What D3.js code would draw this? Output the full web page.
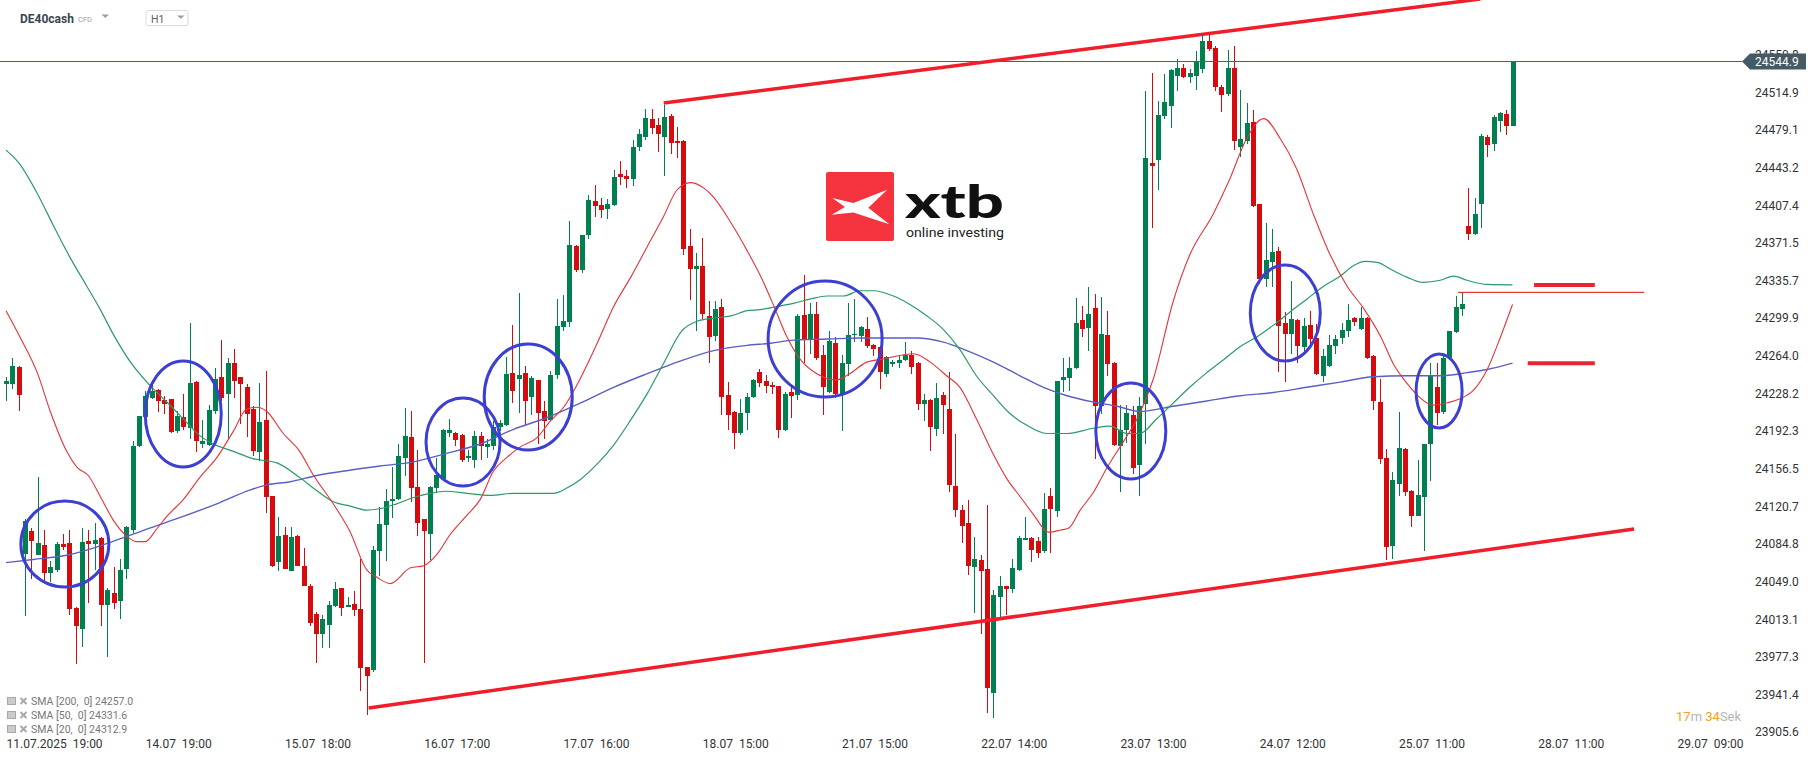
<!DOCTYPE html>
<html>
<head>
<meta charset="utf-8">
<style>
  body { margin: 0; background: #fff; }
  svg { display: block; font-family: Roboto, "Noto Sans", sans-serif; }
  .pre { white-space: pre; }
</style>
</head>
<body>
<svg width="1815" height="761"></svg>
<script src="https://d3js.org/d3.v7.min.js"></script>
<script>

// DE40cash H1 candles, 11.07.2025 19:00 .. 28.07 07:00 (one entry per candle)
var opens = [
  24236.7,24237.4,24252.9,24075.6,24097.5,24074.5,24083.7,24057.3,24059.7,24084.8,
  24085.5,24023.8,24004.0,24087.9,24084.4,24090.4,24026.9,24038.5,24030.8,24060.8,
  24098.5,24177.8,24206.0,24223.6,24231.4,24221.9,24222.6,24192.6,24205.7,24195.4,
  24239.5,24180.3,24178.9,24211.3,24243.7,24227.2,24257.1,24243.7,24234.2,24213.8,
  24172.5,24202.5,24130.2,24067.8,24093.2,24059.0,24092.5,24063.3,24044.6,24018.5,
  23998.7,24007.6,24025.5,24042.8,24024.5,24027.3,24022.7,23967.4,23964.6,24078.4,
  24102.7,24125.3,24127.6,24167.0,24186.2,24139.5,24108.5,24094.3,24138.3,24146.8,
  24190.8,24190.0,24188.9,24166.3,24165.1,24187.3,24177.4,24178.5,24195.8,24197.7,
  24247.4,24241.7,24247.4,24225.2,24240.5,24211.1,24202.6,24245.5,24291.4,24296.4,
  24368.8,24345.8,24378.7,24411.3,24407.4,24403.6,24407.4,24437.7,24435.8,24432.3,
  24462.6,24472.1,24489.7,24483.6,24472.1,24492.4,24468.3,24468.7,24368.8,24347.0,
  24350.0,24301.8,24283.0,24310.6,24227.1,24210.3,24190.0,24209.2,24225.2,24248.2,
  24239.8,24236.3,24235.0,24192.9,24229.1,24226.5,24303.0,24280.1,24304.3,24264.8,
  24229.9,24275.8,24227.8,24256.3,24283.5,24283.1,24289.4,24274.6,24272.4,24246.9,
  24256.3,24257.5,24260.5,24265.2,24257.5,24218.0,24222.3,24194.6,24226.5,24213.8,
  24139.8,24117.2,24104.4,24063.2,24069.6,24061.1,23942.8,24034.3,24044.9,24041.5,
  24059.8,24088.7,24090.8,24087.4,24077.6,24130.8,24116.4,24240.5,24242.7,24252.0,
  24298.0,24290.3,24309.4,24216.3,24283.9,24257.5,24178.0,24192.9,24207.8,24159.7,
  24217.9,24447.8,24450.2,24492.8,24502.3,24530.8,24538.7,24529.2,24530.8,24537.6,
  24563.5,24557.4,24520.0,24513.2,24538.0,24463.2,24468.9,24486.6,24408.7,24337.3,
  24353.3,24363.5,24295.4,24284.6,24298.2,24272.3,24293.0,24281.1,24244.4,24253.9,
  24273.3,24281.1,24287.9,24300.5,24289.3,24300.5,24264.1,24219.6,24166.2,24082.8,
  24142.3,24175.4,24135.5,24111.7,24129.8,24179.8,24234.2,24210.4,24262.1,24286.9,
  24309.0,24388.0,24380.5,24408.7,24472.3,24465.5,24487.7,24494.1,24483.2
];
var highs = [
  24243.7,24262.4,24254.0,24109.0,24099.9,24148.6,24098.5,24068.5,24086.2,24094.3,
  24098.5,24024.5,24100.3,24098.5,24104.8,24091.0,24042.8,24062.6,24070.3,24102.1,
  24183.1,24207.0,24230.7,24240.6,24232.0,24226.1,24223.0,24211.3,24227.2,24295.2,
  24240.2,24202.5,24217.3,24252.5,24279.0,24262.4,24270.5,24244.0,24236.7,24216.6,
  24238.4,24249.4,24130.5,24110.8,24101.0,24101.0,24093.0,24080.9,24046.3,24019.9,
  24017.4,24030.8,24048.5,24043.0,24034.3,24039.6,24070.3,23968.0,24082.6,24119.7,
  24137.3,24158.2,24180.4,24214.1,24211.1,24174.7,24108.5,24140.2,24167.0,24194.0,
  24204.2,24191.0,24189.5,24174.7,24192.7,24191.9,24185.0,24201.5,24202.6,24262.7,
  24293.4,24324.0,24253.9,24244.4,24241.0,24220.6,24249.3,24318.2,24322.1,24392.9,
  24370.0,24379.5,24417.0,24426.6,24414.7,24413.2,24440.7,24449.2,24440.7,24469.5,
  24480.2,24498.9,24498.9,24490.5,24502.8,24494.3,24482.1,24469.5,24385.2,24362.3,
  24376.4,24316.3,24316.3,24318.2,24238.6,24211.0,24222.5,24228.3,24241.7,24251.3,
  24245.5,24239.3,24235.5,24229.1,24234.2,24304.3,24341.3,24314.1,24315.0,24274.6,
  24287.3,24281.8,24264.8,24314.1,24318.0,24292.0,24300.9,24275.0,24273.0,24263.9,
  24260.5,24264.8,24277.5,24269.0,24258.0,24227.8,24222.5,24238.4,24229.9,24249.0,
  24189.5,24122.3,24127.0,24091.7,24074.7,24121.5,24040.6,24054.7,24045.0,24070.4,
  24092.5,24110.8,24091.0,24091.7,24132.9,24138.5,24240.0,24261.8,24262.6,24319.2,
  24311.6,24329.8,24322.6,24320.5,24306.5,24258.0,24217.2,24217.2,24215.9,24224.8,
  24515.9,24533.6,24506.4,24532.9,24537.0,24547.2,24542.1,24537.0,24554.0,24569.3,
  24571.0,24559.1,24521.7,24555.7,24559.1,24517.2,24504.7,24497.9,24409.0,24390.7,
  24384.9,24367.9,24305.6,24335.2,24299.0,24300.5,24306.3,24294.8,24270.6,24283.5,
  24283.5,24295.4,24313.1,24301.0,24310.7,24301.0,24264.8,24241.7,24175.7,24153.2,
  24210.4,24176.0,24136.0,24164.4,24180.0,24257.3,24257.3,24264.1,24288.0,24321.0,
  24324.4,24423.7,24414.5,24475.1,24474.7,24493.4,24496.2,24497.9,24544.9
];
var lows = [
  24220.8,24232.5,24211.3,24015.7,24051.6,24073.8,24049.9,24048.5,24058.0,24079.1,
  24017.4,23970.5,23986.4,24028.7,24059.7,24006.2,23976.9,24022.7,24012.9,24050.9,
  24095.0,24176.8,24206.0,24222.6,24210.3,24208.8,24190.0,24190.2,24193.7,24184.9,
  24172.5,24176.1,24178.5,24208.5,24220.8,24184.9,24223.6,24199.0,24186.6,24169.0,
  24163.7,24114.4,24062.6,24059.0,24060.5,24058.7,24063.3,24044.6,24006.9,23971.6,
  23985.7,23985.7,24024.5,24015.7,24024.3,24015.7,23944.5,23921.8,23962.8,24054.4,
  24068.5,24109.6,24126.9,24149.1,24124.9,24092.4,23971.8,24069.4,24133.4,24145.2,
  24186.2,24178.5,24163.2,24162.4,24157.5,24164.4,24167.0,24174.7,24192.7,24197.0,
  24219.5,24209.2,24197.7,24207.2,24179.7,24185.1,24201.5,24241.7,24287.6,24291.4,
  24344.3,24343.1,24374.9,24395.9,24395.6,24394.8,24406.3,24426.6,24423.5,24426.2,
  24459.1,24469.5,24475.2,24458.0,24435.0,24456.1,24452.2,24360.4,24317.5,24287.6,
  24299.1,24257.0,24278.1,24207.2,24193.8,24175.5,24189.0,24193.8,24224.0,24234.0,
  24228.3,24227.8,24185.3,24192.5,24205.2,24222.3,24257.5,24266.0,24259.7,24207.8,
  24229.0,24223.5,24192.5,24244.8,24276.7,24276.7,24271.6,24263.9,24232.0,24243.5,
  24253.3,24252.0,24258.8,24246.9,24212.0,24202.3,24173.4,24187.4,24189.5,24134.2,
  24110.8,24085.3,24055.5,24019.4,23999.4,23923.7,23919.4,24015.1,24017.3,24038.5,
  24059.0,24088.5,24067.4,24071.7,24075.9,24075.9,24110.0,24229.1,24230.8,24251.0,
  24281.8,24268.2,24166.1,24208.6,24244.8,24178.0,24134.2,24181.0,24151.2,24130.0,
  24180.4,24385.6,24422.3,24490.0,24480.8,24516.6,24529.0,24524.4,24517.2,24533.6,
  24554.7,24515.9,24496.1,24512.0,24460.4,24453.6,24465.5,24406.0,24332.9,24329.5,
  24329.5,24248.5,24239.3,24265.5,24257.3,24268.9,24275.0,24246.0,24239.3,24252.9,
  24265.5,24275.7,24281.8,24292.0,24288.6,24260.7,24212.1,24161.0,24069.2,24070.9,
  24130.4,24130.4,24100.8,24111.0,24077.7,24145.0,24198.5,24208.7,24261.5,24286.0,
  24302.2,24374.4,24378.8,24385.6,24453.6,24458.7,24477.4,24474.0,24483.0
];
var closes = [
  24240.2,24254.3,24226.5,24106.6,24087.9,24085.5,24056.9,24062.6,24084.4,24081.9,
  24022.7,24006.9,24086.9,24084.4,24089.0,24026.2,24041.0,24028.7,24060.4,24101.0,
  24177.8,24206.7,24226.1,24230.7,24220.8,24218.4,24191.9,24206.7,24196.1,24237.7,
  24182.4,24182.4,24212.4,24242.0,24223.6,24256.8,24240.2,24236.7,24208.5,24173.2,
  24200.7,24129.2,24063.3,24092.2,24060.8,24091.5,24064.0,24044.9,24009.7,23998.7,
  24013.2,24026.2,24041.4,24023.4,24026.9,24021.7,23967.0,23959.3,24079.1,24103.8,
  24125.6,24127.6,24168.2,24187.3,24138.3,24104.6,24097.0,24139.1,24150.6,24193.8,
  24193.1,24183.5,24165.1,24169.0,24187.3,24178.5,24180.4,24195.8,24200.3,24246.3,
  24230.2,24245.5,24220.6,24242.5,24209.2,24201.5,24245.5,24292.2,24296.8,24369.9,
  24345.8,24378.7,24412.0,24407.1,24402.5,24408.6,24434.2,24434.2,24432.3,24462.9,
  24475.2,24490.5,24480.9,24475.2,24491.3,24466.4,24466.4,24366.1,24347.0,24350.0,
  24304.1,24281.9,24308.7,24225.2,24207.2,24190.0,24209.9,24225.2,24240.9,24237.9,
  24234.8,24234.2,24193.8,24227.8,24225.7,24302.2,24279.7,24303.5,24261.8,24234.2,
  24278.0,24227.8,24257.5,24284.3,24285.2,24291.6,24273.7,24270.3,24248.2,24262.6,
  24258.4,24260.5,24264.8,24253.3,24218.4,24222.3,24195.9,24223.5,24217.2,24140.6,
  24117.2,24102.3,24064.0,24070.4,24058.9,23947.1,24036.4,24044.9,24041.9,24061.9,
  24090.8,24090.8,24078.9,24075.9,24118.0,24118.5,24239.7,24243.5,24252.0,24295.0,
  24289.4,24303.5,24215.9,24285.2,24256.3,24178.9,24193.8,24209.5,24157.6,24215.9,
  24452.6,24445.1,24493.4,24505.7,24536.3,24538.7,24529.2,24533.6,24544.5,24564.2,
  24556.7,24520.0,24512.1,24538.7,24468.3,24470.6,24485.9,24407.0,24337.3,24355.0,
  24362.8,24292.7,24284.6,24298.8,24273.3,24292.0,24280.1,24247.1,24264.1,24274.3,
  24280.1,24288.6,24298.2,24296.5,24300.5,24262.1,24220.6,24165.5,24082.1,24145.7,
  24176.4,24133.8,24111.7,24131.5,24179.8,24245.1,24209.7,24262.1,24287.9,24310.7,
  24313.1,24379.8,24399.2,24473.4,24464.9,24491.7,24495.1,24482.5,24544.9
];

// moving averages: [candle index, value]
var sma200 = [[0,24067],[4.3,24070],[9.6,24074],[14.9,24083],[19.1,24092],[22.8,24100],[28,24111],
  [33.3,24123],[38.5,24136],[41.2,24141],[44.9,24144],[49.1,24150],[54.3,24155],[59.1,24159],
  [64.4,24163],[69.6,24171],[74.9,24180],[80.2,24194],[85.4,24205],[90.7,24219],[96,24234],
  [101.3,24247],[106.5,24259],[111.8,24269],[117.1,24274],[120.8,24276],[124.4,24279],[129.7,24280],
  [134.9,24281],[140.2,24281],[143.9,24281],[148.1,24277],[151.8,24269],[156,24258],[160.2,24245],
  [163.9,24234],[167.6,24226],[171.8,24220],[175.5,24216],[179.1,24211],[184.4,24216],[189.7,24221],
  [195,24226],[200.2,24229],[205.5,24234],[210.8,24239],[216,24244],[221.3,24245],[226.6,24245],
  [230.8,24248],[234,24251],[238,24257]];
var sma50 = [[0,24460],[2,24448],[5,24418],[7.5,24388],[10,24359],[12.7,24331],[14.9,24308],
  [17,24284],[19.9,24256],[22.7,24236],[25.4,24220],[28,24204],[30.6,24188],[32.8,24180],
  [35.9,24173],[39,24166],[42.8,24162],[46.4,24148],[49,24136],[51.7,24125],[54.3,24121],
  [57,24117],[59.6,24119],[61.7,24123],[64.4,24129],[67,24133],[69.6,24135],[72.8,24133],
  [76.5,24131],[80.2,24133],[83.9,24133],[86.5,24133],[88.6,24138],[90.7,24146],[93.4,24161],
  [96,24179],[98.7,24203],[101.3,24228],[103.9,24257],[106.8,24288],[109.2,24297],[111.8,24300],
  [114.5,24302],[117.1,24307],[119.1,24308],[121.8,24311],[124.4,24314],[127,24318],[129.7,24321],
  [132.3,24321],[134.9,24326],[137,24326],[140.2,24321],[142.8,24313],[145.5,24302],[148.1,24289],
  [150.7,24270],[153.3,24245],[156,24226],[158.6,24209],[161.2,24198],[164.4,24190],[167.6,24190],
  [171.8,24195],[174.4,24197],[177.1,24190],[179.1,24190],[181.8,24204],[184.4,24219],[187,24234],
  [189.7,24248],[192.3,24260],[195,24273],[197.6,24282],[200.2,24293],[202.9,24306],[205.5,24318],
  [208.1,24330],[210.8,24340],[212.9,24350],[214.7,24354],[216.6,24353],[219.2,24345],[221.3,24339],
  [223.7,24334],[226.6,24336],[228.7,24340],[230.8,24336],[234,24332],[238,24331.6]];
var sma20 = [[0,24307],[2.2,24282],[5,24247],[7,24211],[9.6,24173],[11.2,24158],[13,24150],
  [14.9,24130],[17,24107],[19.1,24092],[20.6,24087],[22,24087],[23.8,24099],[25.4,24111],
  [28,24127],[30.6,24148],[33.3,24167],[35.9,24192],[38,24213],[39.6,24215],[41.2,24211],
  [43.8,24190],[46.4,24173],[48.5,24151],[51.7,24123],[54.3,24097],[57,24060],[58.6,24053],
  [60.7,24047],[63.9,24062],[66,24064],[68.1,24075],[70.2,24094],[72.8,24112],[74.9,24127],
  [77,24154],[79.1,24167],[81.2,24177],[83.9,24186],[86,24202],[88.1,24215],[90.7,24242],
  [93.4,24276],[96,24311],[98.7,24339],[101.3,24368],[103.9,24397],[106,24422],[108.1,24429],
  [110.2,24424],[111.8,24415],[114.5,24391],[117.1,24364],[119.2,24340],[121.2,24313],[123.3,24283],
  [125.7,24259],[128.1,24247],[131.2,24241],[133.3,24247],[136,24258],[138.6,24261],[141.8,24265],
  [143.4,24266],[146,24258],[148.6,24245],[150.7,24234],[153.3,24204],[156,24170],[158.1,24147],
  [160.2,24130],[162.3,24113],[164.7,24096],[166.6,24098],[167.9,24100],[169.7,24117],[171.8,24134],
  [174,24158],[176.6,24183],[178.7,24204],[181.2,24241],[184.4,24316],[187,24360],[190.7,24399],
  [193.3,24432],[196,24471],[198.7,24490],[201.3,24471],[203.9,24442],[206.6,24398],[209.2,24360],
  [211.9,24330],[214.5,24309],[217.2,24282],[219.2,24256],[221.3,24238],[223.4,24224],[225.5,24217],
  [227.6,24219],[229.7,24223],[231.8,24231],[234,24251],[236.1,24282],[238,24312.9]];

var legendNames = ["SMA [200,  0]", "SMA [50,  0]", "SMA [20,  0]"];
var legendValues = [24257.0, 24331.6, 24312.9];

var yTicks = [23905.6,23941.4,23977.3,24013.1,24049.0,24084.8,24120.7,24156.5,24192.3,24228.2,
  24264.0,24299.9,24335.7,24371.5,24407.4,24443.2,24479.1,24514.9,24550.8];
var xTickIdx = [0,22,44,66,88,110,132,154,176,198,220,242,264];
var xTickLabels = ["11.07.2025  19:00","14.07  19:00","15.07  18:00","16.07  17:00","17.07  16:00",
  "18.07  15:00","21.07  15:00","22.07  14:00","23.07  13:00","24.07  12:00","25.07  11:00",
  "28.07  11:00","29.07  09:00"];
var lastPrice = 24544.9;

// drawn annotations: [candle index, price]
var channelUpper = [[103.9,24504.9],[232.9,24604.0]];
var channelLower = [[57.3,23928.5],[257.2,24099.0]];
var fridayHigh = [[229.4,24324.4],[258.8,24324.4]];
var levelMarks = [[[241.4,24331.6],[251.0,24331.6]],[[240.4,24257.0],[251.0,24257.0]]];
var circleCenters = [[9.3,24084.7],[28.0,24208.6],[72.2,24181.9],[82.5,24224.8],
  [129.4,24280.0],[177.7,24192.4],[202.1,24304.8],[226.4,24230.5]];
var circleRx = [44,38,37,44,57,35,35,23];
var circleRy = [43,53,44,53,58,48,48,37];

var svg = d3.select("svg");

var x = d3.scaleLinear().domain([0, 264]).range([6, 1677.1]);
var y = d3.scaleLinear().domain([23905.6, 24544.9]).range([732, 61]);

var green = "#00804e", red = "#d50b0e";

// watermark logo
var logo = svg.append("g").attr("transform", "translate(826,172)");
logo.append("rect").attr("width", 68).attr("height", 69).attr("rx", 2).attr("fill", "#f4333f");
logo.append("path")
  .attr("d", "M6.3,26 L27.3,31 L61.3,17.7 L42.3,35.7 L63.3,52.3 L27.3,40.5 L5.7,42.7 L19,35 Z")
  .attr("fill", "#fff");
svg.append("text").attr("x", 905).attr("y", 218)
  .attr("font-family", "Lato, Roboto, sans-serif")
  .attr("font-size", 46).attr("font-weight", 900).attr("fill", "#111")
  .attr("textLength", 99).attr("lengthAdjust", "spacingAndGlyphs").text("xtb");
svg.append("text").attr("x", 906).attr("y", 236.5)
  .attr("font-size", 13.5).attr("fill", "#222")
  .attr("textLength", 98).attr("lengthAdjust", "spacingAndGlyphs").text("online investing");

// header
svg.append("text").attr("x", 20).attr("y", 22.5).attr("font-size", 12).attr("font-weight", 700)
  .attr("fill", "#37474f").text("DE40cash");
svg.append("text").attr("x", 78).attr("y", 21.5).attr("font-size", 7.5)
  .attr("fill", "#9e9e9e").text("CFD");
svg.append("path").attr("d", "M101.5,14.5 L109,14.5 L105.25,18 Z").attr("fill", "#9e9e9e");
svg.append("rect").attr("x", 146).attr("y", 10.5).attr("width", 42).attr("height", 15)
  .attr("rx", 2).attr("fill", "#fff").attr("stroke", "#dcdcdc");
svg.append("text").attr("x", 151).attr("y", 22.5).attr("font-size", 10.5)
  .attr("fill", "#616161").text("H1");
svg.append("path").attr("d", "M177,15.5 L184.5,15.5 L180.75,18.8 Z").attr("fill", "#9e9e9e");

// candles
var idx = d3.range(opens.length);
var cg = svg.append("g").attr("shape-rendering", "crispEdges");
var candle = cg.selectAll("g").data(idx).enter().append("g");
candle.append("line")
  .attr("x1", function (i) { return Math.round(x(i)) + 0.5; })
  .attr("x2", function (i) { return Math.round(x(i)) + 0.5; })
  .attr("y1", function (i) { return Math.round(y(highs[i])); })
  .attr("y2", function (i) { return Math.round(y(lows[i])); })
  .attr("stroke", function (i) { return closes[i] >= opens[i] ? green : red; });
candle.append("rect")
  .attr("x", function (i) { return Math.round(x(i)) - 2; })
  .attr("width", 5)
  .attr("y", function (i) { return Math.round(y(Math.max(opens[i], closes[i]))); })
  .attr("height", function (i) {
    return Math.max(1, Math.round(y(Math.min(opens[i], closes[i]))) - Math.round(y(Math.max(opens[i], closes[i]))));
  })
  .attr("fill", function (i) { return closes[i] >= opens[i] ? green : red; });

// moving averages
var smaLine = d3.line()
  .x(function (d) { return x(d[0]); })
  .y(function (d) { return y(d[1]); })
  .curve(d3.curveMonotoneX);
svg.append("path").datum(sma200).attr("d", smaLine).attr("fill", "none")
  .attr("stroke", "#5a5fc4").attr("stroke-width", 1.4);
svg.append("path").datum(sma50).attr("d", smaLine).attr("fill", "none")
  .attr("stroke", "#2a9a66").attr("stroke-width", 1.2);
svg.append("path").datum(sma20).attr("d", smaLine).attr("fill", "none")
  .attr("stroke", "#e8323a").attr("stroke-width", 1.1);

// last price line
svg.append("line").attr("x1", 0).attr("x2", 1742)
  .attr("y1", Math.round(y(lastPrice)) + 0.5).attr("y2", Math.round(y(lastPrice)) + 0.5)
  .attr("stroke", "#4f5f6a").attr("stroke-width", 1);

// annotations
var segLine = d3.line().x(function (d) { return x(d[0]); }).y(function (d) { return y(d[1]); });
svg.append("path").datum(channelUpper).attr("d", segLine).attr("stroke", "#ef1e2a")
  .attr("stroke-width", 3.5).attr("fill", "none");
svg.append("path").datum(channelLower).attr("d", segLine).attr("stroke", "#ef1e2a")
  .attr("stroke-width", 3.5).attr("fill", "none");
svg.append("path").datum(fridayHigh).attr("d", segLine).attr("stroke", "#e53935")
  .attr("stroke-width", 1.2).attr("fill", "none");
levelMarks.forEach(function (m) {
  svg.append("path").datum(m).attr("d", segLine).attr("stroke", "#e8262f")
    .attr("stroke-width", 4).attr("fill", "none");
});
svg.append("g").selectAll("ellipse").data(circleCenters).enter().append("ellipse")
  .attr("cx", function (d) { return x(d[0]); })
  .attr("cy", function (d) { return y(d[1]); })
  .attr("rx", function (d, i) { return circleRx[i]; })
  .attr("ry", function (d, i) { return circleRy[i]; })
  .attr("fill", "none").attr("stroke", "#3c3fd2").attr("stroke-width", 3);

// price axis (top label sits partly behind the last-price badge, as in the original)
var yAxis = svg.append("g").attr("transform", "translate(1755,0)")
  .call(d3.axisRight(y).tickValues(yTicks).tickFormat(d3.format(".1f")).tickSize(0).tickPadding(0));
yAxis.select(".domain").remove();
yAxis.selectAll("text").attr("font-family", "Roboto").attr("font-size", 12).attr("fill", "#333");

// last price badge
var by = Math.round(y(lastPrice));
svg.append("path")
  .attr("d", "M1742," + (by + 0.5) + " L1750," + (by - 7.5) + " L1806," + (by - 7.5) +
    " L1806," + (by + 8.5) + " L1750," + (by + 8.5) + " Z")
  .attr("fill", "#455a64");
svg.append("text").attr("x", 1755).attr("y", by + 0.5).attr("dy", "0.35em")
  .attr("font-size", 12).attr("fill", "#fff").text(d3.format(".1f")(lastPrice));

// time axis
var xAxis = svg.append("g").attr("transform", "translate(0,744)")
  .call(d3.axisBottom(x).tickValues(xTickIdx)
    .tickFormat(function (d, i) { return xTickLabels[i]; }).tickSize(0).tickPadding(0));
xAxis.select(".domain").remove();
xAxis.selectAll("text").attr("class", "pre").attr("text-anchor", "start").attr("dy", "0.35em")
  .attr("font-family", "Roboto").attr("font-size", 12).attr("fill", "#333");

// legend
var lg = svg.append("g").selectAll("g").data(legendNames).enter().append("g")
  .attr("transform", function (d, i) { return "translate(0," + (701.5 + i * 14) + ")"; });
lg.append("rect").attr("x", 7).attr("y", -4.5).attr("width", 9).attr("height", 8).attr("fill", "#a8a8a8");
lg.append("path").attr("d", "M8,-2.5 H15 M8,-0.5 H15 M8,1.5 H15").attr("stroke", "#fff").attr("stroke-width", 0.8);
lg.append("path").attr("d", "M20.5,-3.5 L26.5,2.5 M26.5,-3.5 L20.5,2.5")
  .attr("stroke", "#a8a8a8").attr("stroke-width", 2);
lg.append("text").attr("class", "pre").attr("x", 31).attr("dy", "0.35em")
  .attr("font-size", 10.5).attr("fill", "#777")
  .text(function (d, i) { return d + " " + d3.format(".1f")(legendValues[i]); });

// countdown
var tm = svg.append("text").attr("x", 1676).attr("y", 720.5).attr("font-size", 13);
tm.append("tspan").attr("fill", "#f5a020").text("17");
tm.append("tspan").attr("fill", "#b5b5b5").text("m ");
tm.append("tspan").attr("fill", "#f5a020").text("34");
tm.append("tspan").attr("fill", "#b5b5b5").text("Sek");

</script>
</body>
</html>
